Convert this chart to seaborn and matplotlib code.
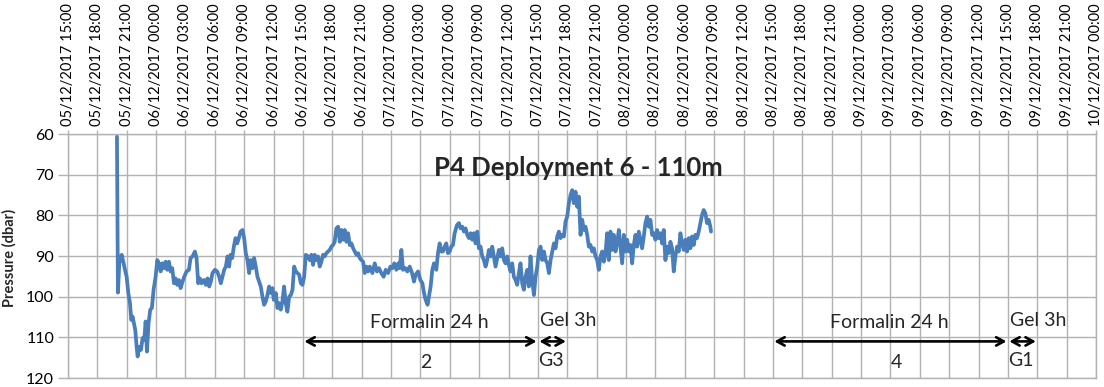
import pandas as pd
import matplotlib
matplotlib.use("Agg")
import matplotlib.pyplot as plt
import matplotlib.dates as mdates
import seaborn as sns

START = pd.Timestamp("2017-12-05 15:00")

# Time of each reading, in hours after 05/12/2017 15:00
hours = [
    5.0, 5.1, 5.24, 5.48, 5.65, 5.82, 5.99, 6.16, 6.33, 6.46,
    6.6, 6.73, 6.87, 7.01, 7.11, 7.28, 7.45, 7.62, 7.79, 7.93,
    8.06, 8.23, 8.4, 8.57, 8.74, 8.95, 9.12, 9.29, 9.46, 9.63,
    9.8, 9.97, 10.14, 10.31, 10.48, 10.65, 10.82, 10.99, 11.16, 11.33,
    11.5, 11.7, 11.87, 12.11, 12.35, 12.52, 12.72, 12.96, 13.13, 13.3,
    13.47, 13.64, 13.88, 14.08, 14.25, 14.42, 14.59, 14.76, 15.0, 15.24,
    15.44, 15.61, 15.78, 15.95, 16.12, 16.29, 16.46, 16.6, 16.77, 16.94,
    17.11, 17.28, 17.45, 17.62, 17.82, 17.99, 18.16, 18.33, 18.5, 18.67,
    18.84, 19.01, 19.18, 19.35, 19.52, 19.69, 19.86, 20.03, 20.2, 20.37,
    20.54, 20.71, 20.88, 21.02, 21.22, 21.39, 21.56, 21.73, 21.9, 22.07,
    22.24, 22.41, 22.59, 22.76, 22.93, 23.1, 23.27, 23.44, 23.61, 23.78,
    23.95, 24.12, 24.29, 24.52, 24.69, 24.86, 25.03, 25.2, 25.37, 25.54,
    25.71, 25.88, 26.05, 26.22, 26.39, 26.56, 26.73, 26.9, 27.07, 27.24,
    27.41, 27.59, 27.76, 27.93, 28.1, 28.27, 28.44, 28.61, 28.78, 28.95,
    29.12, 29.29, 29.46, 29.63, 29.8, 29.97, 30.14, 30.31, 30.48, 30.65,
    30.82, 31.09, 31.33, 31.56, 31.77, 32.0, 32.24, 32.45, 32.69, 32.93,
    33.13, 33.33, 33.54, 33.74, 33.88, 34.05, 34.22, 34.46, 34.66, 34.9,
    35.14, 35.34, 35.51, 35.75, 35.99, 36.2, 36.36, 36.53, 36.73, 36.87,
    37.04, 37.21, 37.38, 37.62, 37.79, 37.96, 38.13, 38.3, 38.47, 38.64,
    38.81, 38.98, 39.15, 39.32, 39.49, 39.73, 39.93, 40.1, 40.27, 40.44,
    40.61, 40.78, 40.95, 41.12, 41.29, 41.46, 41.63, 41.8, 41.97, 42.14,
    42.31, 42.48, 42.65, 42.82, 42.99, 43.16, 43.33, 43.5, 43.67, 43.84,
    44.01, 44.18, 44.35, 44.52, 44.69, 44.86, 45.03, 45.2, 45.37, 45.54,
    45.71, 45.88, 46.05, 46.22, 46.39, 46.56, 46.73, 46.9, 47.07, 47.24,
    47.41, 47.59, 47.76, 47.93, 48.1, 48.27, 48.44, 48.61, 48.78, 48.95,
    49.12, 49.29, 49.46, 49.63, 49.8, 49.97, 50.14, 50.31, 50.48, 50.65,
    50.82, 50.99, 51.16, 51.33, 51.5, 51.67, 51.84, 52.01, 52.18, 52.35,
    52.52, 52.69, 52.86, 53.03, 53.2, 53.37, 53.54, 53.71, 53.88, 54.05,
    54.22, 54.39, 54.56, 54.73, 54.9, 55.07, 55.24, 55.41, 55.58, 55.75,
    55.92, 56.09, 56.26, 56.43, 56.6, 56.77, 56.94, 57.11, 57.28, 57.45,
    57.62, 57.79, 57.96, 58.13, 58.3, 58.47, 58.64, 58.81, 58.98, 59.15,
    59.32, 59.49, 59.66, 59.83, 60.0, 60.17, 60.34, 60.51, 60.68, 60.85,
    61.02, 61.19, 61.36, 61.53, 61.7, 61.87, 62.04, 62.21, 62.38, 62.55,
    62.72, 62.89, 63.06, 63.23, 63.4, 63.57, 63.74, 63.91, 64.08, 64.25,
    64.42, 64.59, 64.76, 64.93, 65.1, 65.27, 65.44, 65.61, 65.68,
]

# Pressure (dbar) at each reading
pressure = [
    60.7, 99.0, 91.8, 89.7, 91.4, 93.4, 95.1, 99.1, 101.6, 105.7,
    104.9, 106.5, 108.2, 112.3, 114.7, 112.3, 113.1, 110.2, 110.6, 106.1,
    113.5, 106.5, 103.2, 102.8, 98.3, 95.1, 91.0, 91.8, 93.8, 91.8,
    93.0, 91.4, 93.4, 91.4, 93.8, 93.0, 96.7, 95.5, 97.1, 95.9,
    97.9, 96.3, 95.1, 93.8, 93.4, 90.5, 90.1, 88.9, 90.5, 96.7,
    95.5, 96.7, 95.9, 97.1, 95.5, 97.5, 96.3, 94.2, 93.4, 93.8,
    95.1, 96.7, 95.1, 93.4, 92.6, 90.1, 92.6, 89.7, 90.5, 87.7,
    85.6, 86.9, 85.6, 84.0, 83.6, 85.6, 89.3, 91.0, 94.2, 91.0,
    93.0, 90.5, 92.6, 95.1, 96.3, 97.5, 100.0, 102.0, 101.2, 99.6,
    97.5, 99.1, 97.9, 100.8, 99.1, 102.8, 101.6, 103.2, 101.2, 97.5,
    101.6, 103.7, 100.0, 99.6, 98.3, 92.6, 93.8, 94.2, 94.6, 96.7,
    97.1, 95.1, 89.7, 90.1, 91.0, 89.7, 92.2, 89.7, 91.0, 90.1,
    92.6, 91.4, 89.7, 90.1, 89.3, 88.9, 88.5, 87.7, 87.3, 86.5,
    83.2, 82.8, 86.5, 83.6, 86.0, 83.6, 86.5, 84.4, 87.3, 86.9,
    88.1, 88.9, 89.7, 89.3, 90.5, 91.0, 91.4, 94.2, 92.6, 93.8,
    92.6, 94.2, 91.8, 93.8, 93.0, 94.2, 95.1, 93.4, 94.2, 92.6,
    93.0, 91.8, 93.4, 91.8, 93.0, 88.5, 93.4, 93.0, 93.8, 92.6,
    94.2, 96.3, 94.6, 93.8, 95.9, 96.7, 99.1, 100.8, 102.0, 100.0,
    97.5, 93.4, 91.8, 93.4, 89.3, 86.9, 88.9, 88.9, 87.7, 86.9,
    89.3, 88.9, 87.7, 87.3, 84.4, 82.4, 81.9, 83.2, 82.8, 84.0,
    83.2, 84.8, 85.6, 84.4, 86.0, 84.4, 86.9, 84.0, 88.1, 87.7,
    90.1, 91.0, 92.6, 91.0, 88.5, 90.1, 87.7, 90.1, 92.6, 90.5,
    88.5, 90.1, 88.1, 91.0, 91.8, 90.1, 92.2, 93.8, 91.8, 95.1,
    95.9, 97.1, 94.2, 91.8, 96.7, 98.3, 95.1, 93.4, 97.5, 90.1,
    95.9, 99.6, 95.1, 92.6, 88.5, 87.7, 91.0, 88.9, 91.0, 91.8,
    94.2, 91.0, 88.9, 86.9, 88.1, 85.2, 84.0, 85.6, 84.8, 85.2,
    81.5, 80.3, 77.0, 75.0, 73.8, 77.0, 74.2, 77.9, 75.4, 84.8,
    81.1, 83.6, 82.8, 84.8, 87.7, 87.3, 88.9, 88.1, 90.1, 91.0,
    93.4, 90.1, 88.9, 91.4, 89.3, 84.4, 91.0, 84.0, 88.5, 84.8,
    88.9, 86.9, 83.6, 87.7, 91.8, 84.8, 88.9, 86.0, 88.9, 87.3,
    91.8, 87.3, 84.8, 87.7, 84.0, 86.0, 88.1, 85.2, 81.9, 80.3,
    82.8, 81.1, 84.8, 84.4, 86.0, 83.6, 85.6, 84.4, 86.9, 83.6,
    91.0, 87.7, 89.3, 86.5, 88.1, 93.8, 90.1, 87.7, 88.9, 84.4,
    86.9, 88.5, 86.0, 88.9, 85.6, 88.1, 85.2, 87.3, 84.8, 85.6,
    84.0, 81.9, 79.9, 78.7, 79.5, 81.9, 81.1, 82.8, 84.0,
]

# Axis ticks
tick_hours = list(range(0, 106, 3))
y_ticks = [60, 70, 80, 90, 100, 110, 120]

title_text = "P4 Deployment 6 - 110m"

# Sampling periods, in hours after the start: (start, end)
formalin_periods = [(24, 48), (72, 96)]
formalin_label_at = [36.9, 83.9]
formalin_id_at = [36.5, 84.6]
formalin_ids = ["2", "4"]
gel_periods = [(48, 51), (96, 99)]
gel_ids = ["G3", "G1"]

sns.set_style("white")
plt.rcParams["font.family"] = ["Lato", "DejaVu Sans"]

GRID = "#B2B2B2"
LINE = "#4A7EBB"

fig = plt.figure(figsize=(11.04, 3.87), dpi=100)
ax = fig.add_axes([68 / 1104, 9 / 387, 1028 / 1104, 244 / 387])

df = pd.DataFrame({
    "time": START + pd.to_timedelta(hours, unit="h"),
    "pressure": pressure,
})
sns.lineplot(data=df, x="time", y="pressure", color=LINE, linewidth=2.7,
             ax=ax, zorder=3)


def t(h):
    return mdates.date2num(START + pd.Timedelta(hours=h))


ax.set_xlim(t(0), t(105))
ax.set_ylim(120, 60)

ticks = [t(h) for h in tick_hours]
ax.set_xticks(ticks)
ax.set_xticklabels(
    [(START + pd.Timedelta(hours=h)).strftime("%d/%m/%Y %H:%M") for h in tick_hours],
    rotation=90, fontsize=10.5)
ax.xaxis.tick_top()
ax.set_yticks(y_ticks)
ax.set_yticklabels([str(v) for v in y_ticks], fontsize=11.5)

ax.grid(True, color=GRID, linewidth=1, zorder=0)
ax.tick_params(axis="x", top=True, bottom=False, length=3, width=1,
               color=GRID, pad=3, labelcolor="black")
ax.tick_params(axis="y", left=True, length=7, width=1, color=GRID, pad=3,
               labelcolor="black")
for side in ["left", "bottom", "top", "right"]:
    ax.spines[side].set_color(GRID)
    ax.spines[side].set_linewidth(1)

ax.set_xlabel("")
ax.set_ylabel("Pressure (dbar)", fontsize=10.5, fontweight="bold")
ax.yaxis.set_label_coords(-0.0500, 0.494)

ax.text(t(52.1), 68.3, title_text, fontsize=18.5, fontweight="bold",
        ha="center", va="center")

arrow_y = 111
arrow_style = dict(arrowstyle="<->,head_length=0.55,head_width=0.3",
                   color="black", lw=1.9, shrinkA=1, shrinkB=1)
for (a, b), lab_h, id_h, pid in zip(formalin_periods, formalin_label_at,
                                    formalin_id_at, formalin_ids):
    ax.annotate("", xy=(t(b), arrow_y), xytext=(t(a), arrow_y),
                arrowprops=arrow_style)
    ax.text(t(lab_h), 106.3, "Formalin 24 h", fontsize=14,
            ha="center", va="center")
    ax.text(t(id_h), 116.1, pid, fontsize=14, ha="center", va="center")
for (a, b), gid in zip(gel_periods, gel_ids):
    ax.annotate("", xy=(t(b), arrow_y), xytext=(t(a), arrow_y),
                arrowprops=arrow_style)
    ax.text(t(a + 0.2), 105.8, "Gel 3h", fontsize=14, ha="left", va="center")
    ax.text(t(a), 115.6, gid, fontsize=14, ha="left", va="center")

fig.savefig("out.png", dpi=100)
